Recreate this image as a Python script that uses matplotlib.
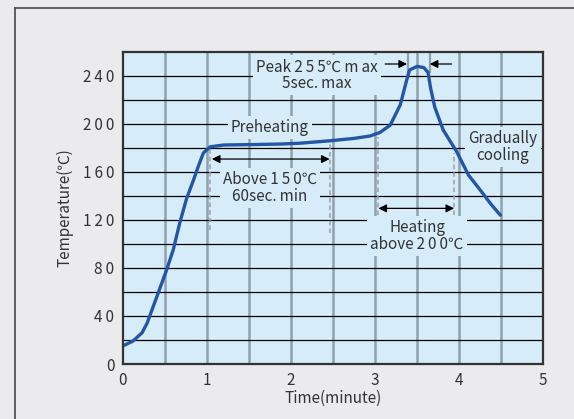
import matplotlib.pyplot as plt
from matplotlib.lines import Line2D
import numpy as np

plt.rcParams['font.family'] = ['Noto Sans CJK JP', 'DejaVu Sans']

# reflow profile
time_min = [0.0, 0.12, 0.23, 0.29, 0.40, 0.52, 0.60, 0.68, 0.76, 0.84, 0.90, 0.96, 1.04,
            1.20, 1.50, 1.87, 2.11, 2.46, 2.75, 2.94, 3.06, 3.18, 3.30, 3.37, 3.41,
            3.50, 3.58, 3.63, 3.66, 3.71, 3.81, 3.97, 4.11, 4.25, 4.38, 4.49]
temp_c = [15, 19, 26, 34, 55, 78, 95, 118, 138, 153, 165, 176, 181,
          182.5, 182.8, 183.3, 184, 186, 188, 190, 193, 199, 216, 235, 245,
          248, 247, 243, 230, 214, 195, 177, 157.5, 145, 133, 124]

x_ticks = [0, 1, 2, 3, 4, 5]
y_ticks = [0, 40, 80, 120, 160, 200, 240]

TS = '\u2009'  # thin space, the digits in the original are tracked wide


def spaced(s):
    return TS.join(s)


bg = '#ebebed'
face = '#d6ecf9'
txt = '#333333'
grid_gray = '#8fa1ab'
curve_blue = '#2456a8'

fig = plt.figure(figsize=(5.74, 4.19), dpi=100, facecolor=bg)
# outer frame (only left and top edges visible)
fig.add_artist(Line2D([15 / 574, 15 / 574], [0, 1 - 8 / 419], color='#555555', lw=1.3))
fig.add_artist(Line2D([15 / 574, 1], [1 - 8 / 419, 1 - 8 / 419], color='#555555', lw=1.3))

ax = fig.add_axes([122.7 / 574, (419 - 364) / 419, (543.3 - 122.7) / 574, (364 - 52) / 419])
ax.set_facecolor(face)
ax.set_xlim(0, 5)
ax.set_ylim(0, 260)

for v in np.arange(0.5, 5, 0.5):
    ax.axvline(v, color=grid_gray, lw=1.8, zorder=1)
for h in np.arange(20, 260, 20):
    ax.axhline(h, color='black', lw=0.9, zorder=1.5)

ax.set_xticks(x_ticks)
ax.set_xticklabels([spaced(str(v)) for v in x_ticks])
ax.set_yticks(y_ticks)
ax.set_yticklabels([spaced(str(v)) for v in y_ticks])
ax.tick_params(length=0, labelsize=11, labelcolor=txt, pad=6)
for s in ax.spines.values():
    s.set_color('#333333')
    s.set_linewidth(1.6)
    s.set_zorder(6)

ax.set_xlabel('Time(minute)', fontsize=11, color=txt, labelpad=0)
ax.set_ylabel('Temperature(℃)', fontsize=11, color=txt, labelpad=7)

ax.plot(time_min, temp_c, color=curve_blue, lw=2.4, zorder=5, solid_capstyle='round')

# dashed markers
dash = dict(color='#9aa0a6', lw=1.1, ls=(0, (3, 2)), zorder=2.5)
ax.plot([1.04, 1.04], [112, 181], **dash)
ax.plot([2.46, 2.46], [109, 186], **dash)
ax.plot([3.03, 3.03], [124, 189], **dash)
ax.plot([3.94, 3.94], [124, 176], **dash)
# peak width marks
ax.plot([3.39, 3.39], [243, 260], color=grid_gray, lw=1.6, zorder=1)
ax.plot([3.65, 3.65], [243, 260], color=grid_gray, lw=1.6, zorder=1)

arr = dict(arrowstyle='-|>', color='black', lw=0.9, mutation_scale=12, shrinkA=0, shrinkB=0)
dbl = dict(arrowstyle='<|-|>', color='black', lw=0.9, mutation_scale=12, shrinkA=0, shrinkB=0)
ax.annotate('', xy=(3.38, 250), xytext=(3.12, 250), arrowprops=arr, zorder=4)
ax.annotate('', xy=(3.65, 250), xytext=(3.91, 250), arrowprops=arr, zorder=4)
ax.annotate('', xy=(1.06, 170.8), xytext=(2.46, 170.8), arrowprops=dbl, zorder=4)
ax.annotate('', xy=(3.04, 129.7), xytext=(3.94, 129.7), arrowprops=dbl, zorder=4)

box = dict(boxstyle='square,pad=0.2', fc=face, ec='none')
tk = dict(fontsize=11, color=txt, ha='center', va='center', zorder=3, linespacing=1.0, bbox=box)
ax.text(2.31, 240.5, f'Peak {spaced("255")}℃ m{TS}ax\n5sec.{TS}max', **tk)
ax.text(1.75, 197, 'Preheating', **tk)
ax.text(1.75, 147, f'Above{TS}{spaced("150")}℃\n60sec.{TS}min', **tk)
ax.text(3.5, 107, f'Heating\nabove{TS}{spaced("200")}℃', **tk)
ax.text(4.52, 181, 'Gradually\ncooling', **tk)

plt.savefig('out.png', dpi=100, facecolor=bg)
